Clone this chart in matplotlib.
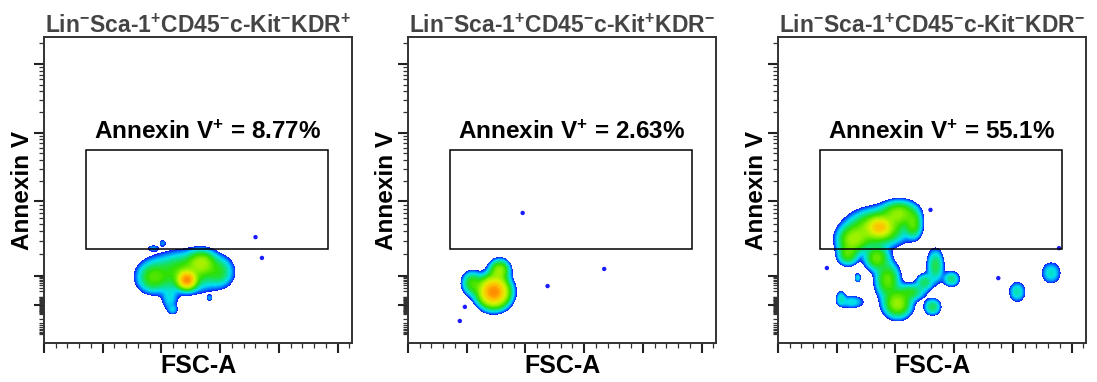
import matplotlib
import numpy as np

matplotlib.use("Agg")
import matplotlib.pyplot as plt
from matplotlib.colors import LinearSegmentedColormap
from matplotlib.patches import Rectangle

plt.rcParams["font.family"] = ["Liberation Sans", "DejaVu Sans"]
plt.rcParams["mathtext.fontset"] = "custom"
plt.rcParams["mathtext.rm"] = "Liberation Sans"
plt.rcParams["mathtext.bf"] = "Liberation Sans:bold"
plt.rcParams["mathtext.default"] = "regular"

# ---- data ----
titles = [
    r"Lin$^{-}$Sca-1$^{+}$CD45$^{-}$c-Kit$^{-}$KDR$^{+}$",
    r"Lin$^{-}$Sca-1$^{+}$CD45$^{-}$c-Kit$^{+}$KDR$^{-}$",
    r"Lin$^{-}$Sca-1$^{+}$CD45$^{-}$c-Kit$^{-}$KDR$^{-}$",
]
annexin_pct = ["8.77%", "2.63%", "55.1%"]

# gate: FSC-A range and Annexin V range (display channel, 0-1000)
gate_fsc = [35700, 242000]
gate_annexin = [308, 630]

# populations as gaussian components: centre FSC-A, centre Annexin V, spreads, relative weight
p1_fsc = [121700, 120000, 134500, 92000, 150000, 107000, 110000, 92800, 101000, 141000]
p1_ann = [206, 232, 265, 212, 232, 140, 108, 310, 327, 147]
p1_sd_fsc = [4300, 18700, 6800, 7700, 6800, 4300, 2600, 3400, 2100, 1700]
p1_sd_ann = [16, 39, 23, 29, 29, 26, 10, 7, 8, 7]
p1_w = [1.0, 0.3, 0.3, 0.22, 0.15, 0.1, 0.07, 0.07, 0.07, 0.07]
p1_dot_fsc = [180000, 185500]
p1_dot_ann = [346, 278]

p2_fsc = [73000, 78000, 54300]
p2_ann = [167, 239, 196]
p2_sd_fsc = [7600, 5100, 5100]
p2_sd_ann = [29, 20, 23]
p2_w = [1.0, 0.3, 0.2]
p2_dot_fsc = [48400, 44100, 97600, 118800, 167000]
p2_dot_ann = [118, 72, 425, 186, 242]

# panel 3: upper blob, its lower-left tail, stem, branch, then the small islands
p3_fsc = [86500, 84800, 63600, 103500, 115400, 59400,
          84000, 93300, 101800,
          113700, 124700, 134000, 147600, 131500,
          62800, 53500, 67900, 203600, 232500]
p3_ann = [379, 376, 337, 425, 386, 288,
          278, 206, 128,
          167, 199, 252, 209, 118,
          134, 147, 213, 167, 229]
p3_sd_fsc = [5100, 13600, 7600, 8500, 4200, 5100,
             5900, 5900, 6800,
             6800, 4200, 4200, 4200, 4200,
             6800, 2500, 1700, 4200, 5100]
p3_sd_ann = [16, 33, 26, 23, 26, 20,
             23, 33, 26,
             16, 16, 33, 15, 16,
             13, 16, 10, 20, 22]
p3_w = [0.45, 0.38, 0.3, 0.28, 0.2, 0.2,
        0.26, 0.26, 0.34,
        0.16, 0.14, 0.16, 0.13, 0.15,
        0.09, 0.08, 0.08, 0.11, 0.1]
p3_dot_fsc = [41600, 129800, 187500, 239200]
p3_dot_ann = [245, 435, 212, 310]

panels = [
    (p1_fsc, p1_ann, p1_sd_fsc, p1_sd_ann, p1_w, p1_dot_fsc, p1_dot_ann),
    (p2_fsc, p2_ann, p2_sd_fsc, p2_sd_ann, p2_w, p2_dot_fsc, p2_dot_ann),
    (p3_fsc, p3_ann, p3_sd_fsc, p3_sd_ann, p3_w, p3_dot_fsc, p3_dot_ann),
]

FSC_MAX = 262144
color_top = [1.05, 1.05, 1.15]  # how hot the densest spot of each panel is drawn

pseudo = LinearSegmentedColormap.from_list(
    "pseudo",
    ["#1414ff", "#0080ff", "#00e0f0", "#10e080", "#30e000", "#90f000", "#e0f000", "#ffc000", "#ff6a00"],
)


def annexin_scale(v):
    # biexponential-ish display scale used by the cytometry software
    v = np.asarray(v, dtype=float)
    near = 124 + 94 * np.arcsinh(v / 10) / np.arcsinh(10)
    far = np.interp(np.log10(np.clip(np.abs(v), 100, None)), [2, 3, 4, 5, 6], [218, 463, 687, 912, 1137])
    return np.where(np.abs(v) <= 100, near, far)


def draw_density(ax, fsc, ann, sd_fsc, sd_ann, weight, top):
    gx = np.linspace(0, FSC_MAX, 600)
    gy = np.linspace(0, 1000, 600)
    xx, yy = np.meshgrid(gx, gy)
    dens = np.zeros_like(xx)
    for cx, cy, sx, sy, w in zip(fsc, ann, sd_fsc, sd_ann, weight):
        dens += w * np.exp(-0.5 * (((xx - cx) / sx) ** 2 + ((yy - cy) / sy) ** 2))
    dens /= dens.max()
    floor = 0.04
    z = np.log(np.maximum(dens, 1e-9) / floor) / np.log(1 / floor)
    ax.contourf(xx, yy, z, levels=np.linspace(0, top, 50), cmap=pseudo, vmin=0, vmax=top)


def style_axes(ax):
    ax.set_xlim(0, FSC_MAX)
    ax.set_ylim(0, 1000)
    for spine in ax.spines.values():
        spine.set_linewidth(1.4)
        spine.set_color("#333333")
    ax.set_xticks(np.arange(0, 250001, 50000))
    ax.set_xticks(np.arange(0, FSC_MAX, 10000), minor=True)
    majors = annexin_scale([0, 1e2, 1e3, 1e4, 1e5])
    minor_vals = [m * 10.0 ** k for k in range(2, 6) for m in range(2, 10)]
    minor_vals += [s * m * 10.0 ** k for s in (1, -1) for k in (0, 1) for m in range(1, 10)]
    minor_vals += [-100]
    minors = annexin_scale(minor_vals)
    ax.set_yticks(majors)
    ax.set_yticks(minors[(minors > 0) & (minors < 1000)], minor=True)
    ax.tick_params(which="major", direction="out", length=7, width=1.5, color="#222222",
                   labelbottom=False, labelleft=False)
    ax.tick_params(which="minor", direction="out", length=3.5, width=0.9, color="#333333")


fig = plt.figure(figsize=(10.97, 3.82), dpi=100)
lefts = [44, 408, 778]
for i, (fsc, ann, sd_fsc, sd_ann, w, dot_fsc, dot_ann) in enumerate(panels):
    ax = fig.add_axes([lefts[i] / 1097, 39 / 382, 308 / 1097, 306 / 382])
    draw_density(ax, fsc, ann, sd_fsc, sd_ann, w, color_top[i])
    ax.scatter(dot_fsc, dot_ann, s=10, color="#1a1aff", edgecolors="none", zorder=3)
    ax.add_patch(Rectangle((gate_fsc[0], gate_annexin[0]), gate_fsc[1] - gate_fsc[0],
                           gate_annexin[1] - gate_annexin[0], fill=False,
                           edgecolor="black", linewidth=1.1, zorder=4))
    ax.text(np.mean(gate_fsc), gate_annexin[1] + 22, r"Annexin V$^{+}$ = " + annexin_pct[i],
            ha="center", va="bottom", fontsize=17.5, fontweight="bold")
    style_axes(ax)
    ax.set_title(titles[i], fontsize=16.5, fontweight="bold", color="#444444", pad=3)
    ax.set_xlabel("FSC-A", fontsize=18, fontweight="bold", labelpad=1)
    ax.set_ylabel("Annexin V", fontsize=17.5, fontweight="bold", labelpad=0)

fig.savefig("out.png", dpi=100)
